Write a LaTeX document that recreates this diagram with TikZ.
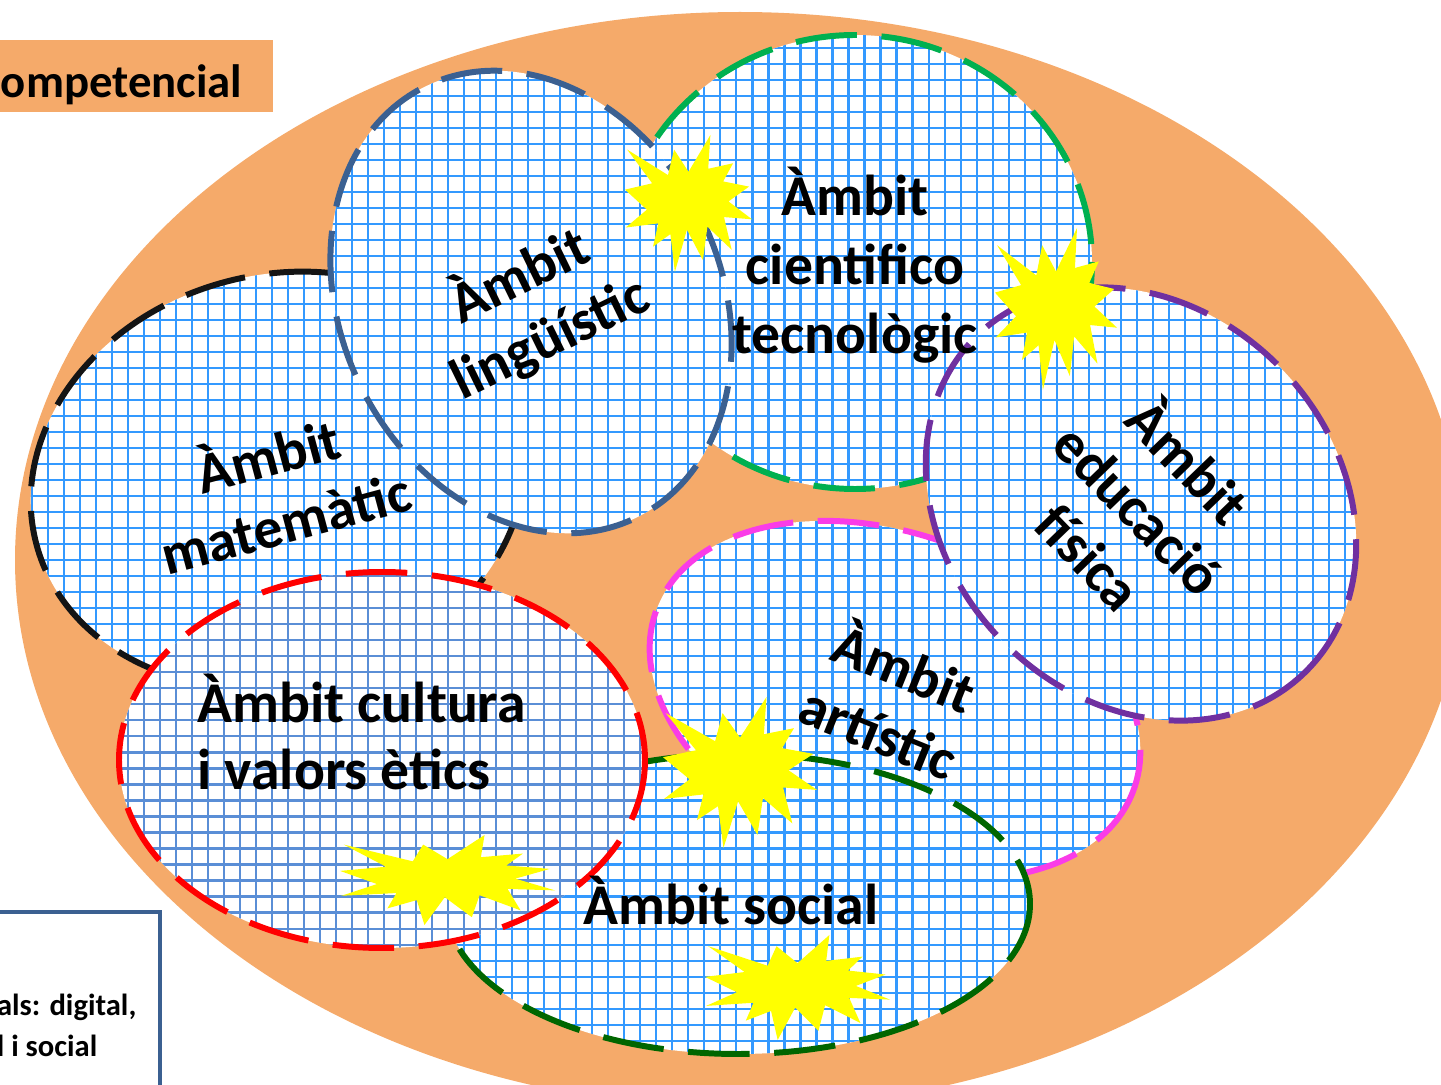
\documentclass[tikz,border=0pt]{standalone}
\usepackage{fontspec}
\setmainfont{Carlito}
\usepackage{tikz}

\definecolor{taronja}{RGB}{245,170,106}
\definecolor{blauquad}{RGB}{51,153,255}
\definecolor{blaucult}{RGB}{90,142,214}
\definecolor{negre}{RGB}{20,20,20}
\definecolor{blauling}{RGB}{59,96,145}
\definecolor{verdcient}{RGB}{0,176,80}
\definecolor{liladef}{RGB}{112,48,160}
\definecolor{rosaart}{RGB}{250,60,232}
\definecolor{verdsoc}{RGB}{0,102,0}
\definecolor{vermcult}{RGB}{255,0,0}
\definecolor{groc}{RGB}{255,255,0}

\begin{document}
\begin{tikzpicture}[x=0.01cm,y=-0.01cm,
  vora/.style={line width=1.7pt,dash pattern=on 17.5pt off 7pt},
  quadricula/.style={line width=0.6pt,step=0.16cm},
  ambit/.style={font=\bfseries\fontsize{16.4}{19.6}\selectfont,align=center,inner sep=0pt},
  explosio/.style={fill=groc}]
\useasboundingbox (0,0) rectangle (1441,1085);
\clip (0,0) rectangle (1441,1085);

\fill[taronja] (740,560) ellipse [x radius=725, y radius=548];

% ambits: centre, radis, gir, color de la vora, color de la quadricula
\foreach \cx/\cy/\rx/\ry/\gir/\cvora/\cquad in {278/480/250/205/15/negre/blauquad,
    855/262/237/227/0/verdcient/blauquad,
    531/302/190/240/26/blauling/blauquad,
    895/700/255/165/-21/rosaart/blauquad,
    1141/504/235/195/-46/liladef/blauquad,
    738/904/292/150/0/verdsoc/blauquad,
    382/760/263/188/0/vermcult/blaucult}{
  \begin{scope}
    \clip[rotate around={\gir:(\cx,\cy)}] (\cx,\cy) ellipse [x radius=\rx, y radius=\ry];
    \fill[white] (0,0) rectangle (1441,1085);
    \draw[quadricula,draw=\cquad] (0,1085) grid (1441,0);
  \end{scope}
  \draw[vora,draw=\cvora,rotate around={\gir:(\cx,\cy)}] (\cx,\cy) ellipse [x radius=\rx, y radius=\ry];
}

% explosions
\foreach \sx/\sy/\sw/\sh in {625/135/127/137, 995/228/122/162, 663/697/154/151, 340/835/215/90, 705/935/185/105}
  \fill[explosio,shift={(\sx,\sy)},xscale=\sw/100,yscale=\sh/100]
    (50,26.85) -- (67.23,0) -- (65.53,24.65) -- (85.09,20.63) -- (77.32,33.87) -- (97.67,37.67)
    -- (81.51,48.50) -- (100,61.53) -- (77.95,59.92) -- (84.00,83.77) -- (64.91,66.93) -- (61.33,91.38)
    -- (48.76,69.14) -- (39.28,100) -- (35.72,72.35) -- (22.05,81.56) -- (26.24,64.52) -- (0.63,67.53)
    -- (17.23,54.51) -- (0,39.88) -- (21.42,35.26) -- (1.71,10.63) -- (33.85,29.26) -- (38.67,10.63) -- cycle;

\node[ambit,rotate=15] (mat) at (276,486) {Àmbit\\matemàtic};
\node[ambit,rotate=26] (ling) at (534,306) {Àmbit\\lingüístic};
\node[ambit] (cient) at (855,265) {Àmbit\\cientifico\\tecnològic};
\node[ambit,rotate=-46] (fis) at (1141,507) {Àmbit\\educació\\física};
\node[ambit,rotate=-22] (art) at (893,697) {Àmbit\\artístic};
\node[ambit,anchor=base west] (cult1) at (197,722) {Àmbit cultura};
\node[ambit,anchor=base west] (cult2) at (197,790) {i valors ètics};
\node[ambit,anchor=base] (soc) at (731,925) {Àmbit social};

\fill[taronja] (0,40) rectangle (273,112);
\node[font=\bfseries\fontsize{13.3}{16}\selectfont,anchor=base east,inner sep=0pt] (titol) at (243,98) {ompetencial};

\draw[blauling,line width=1.1pt,fill=white] (-20,912) rectangle (160,1110);
\node[font=\bfseries\fontsize{8.7}{12}\selectfont,anchor=base east,inner sep=0pt] (comp1) at (137,1015) {als: digital,};
\node[font=\bfseries\fontsize{8.7}{12}\selectfont,anchor=base east,inner sep=0pt] (comp2) at (98,1057) {l i social};

\end{tikzpicture}
\end{document}
